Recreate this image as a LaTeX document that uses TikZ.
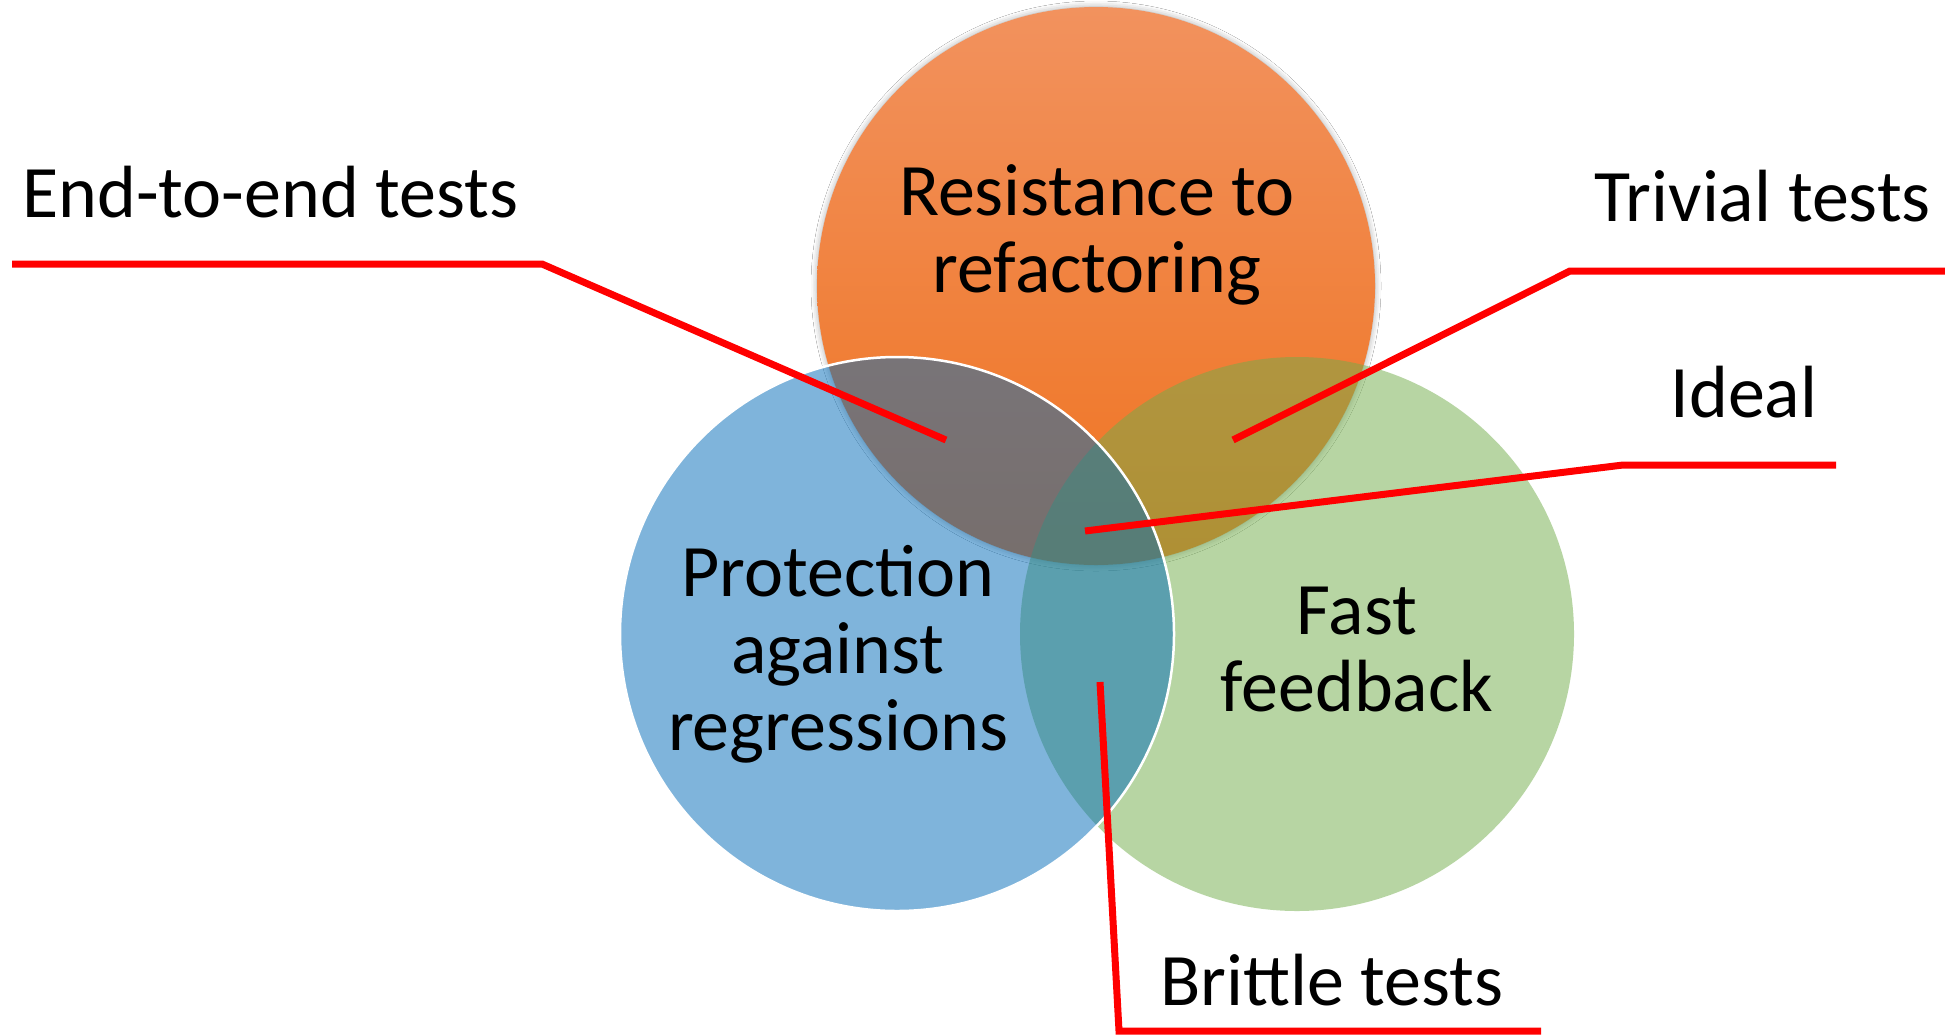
\documentclass[tikz,border=0pt]{standalone}
\usepackage{fontspec}
\setmainfont{Carlito}
\usetikzlibrary{shadows.blur}

\definecolor{orangeTop}{RGB}{242,146,94}
\definecolor{orangeBot}{RGB}{239,115,32}
\definecolor{vennGreen}{RGB}{113,173,73}
\definecolor{vennBlue}{RGB}{1,107,185}
\definecolor{calloutRed}{RGB}{255,0,0}

\begin{document}
\begin{tikzpicture}[x=1pt,y=-1pt,
  lbl/.style={font=\fontsize{74}{77}\selectfont, inner sep=0pt, align=center, text=black},
  setline/.style={white, line width=2.5pt, fill opacity=0.5},
  callout/.style={draw=calloutRed, line width=7pt}]

  % canvas
  \fill[white] (0,0) rectangle (1945,1034);
  \useasboundingbox (0,0) rectangle (1945,1034);

  % circle centres
  \coordinate (cO) at (1096,286);
  \coordinate (cB) at (897,634);
  \coordinate (cG) at (1297,634);

  % orange set: opaque, vertical gradient, soft glow
  \path[top color=orangeTop, bottom color=orangeBot,
        blur shadow={shadow xshift=0pt, shadow yshift=0pt,
                     shadow blur radius=6pt, shadow opacity=35}]
    (cO) circle (279);

  % green and blue sets: half transparent, white rims
  \path[setline, fill=vennGreen] (cG) circle (277);
  \path[setline, fill=vennBlue] (cB) circle (277);
  \draw[white, line width=2.5pt] (cB) circle (277);

  % set names (base anchor = last line's baseline)
  \node[lbl, anchor=base] (resist) at (1097,292) {Resistance to\\refactoring};
  \node[lbl, anchor=base] (protect) at (838,750) {Protection\\against\\regressions};
  \node[lbl, anchor=base] (fast) at (1357,711) {Fast\\feedback};

  % callout labels
  \node[lbl, anchor=base west] (e2e) at (22,217) {End-to-end tests};
  \node[lbl, anchor=base east] (trivial) at (1931,221) {Trivial tests};
  \node[lbl, anchor=base] (ideal) at (1744,417) {Ideal};
  \node[lbl, anchor=base] (brittle) at (1332,1005) {Brittle tests};

  % callout line points
  \coordinate (e2eA) at (12,264);
  \coordinate (e2eB) at (542,264);
  \coordinate (e2eTip) at (946,440);
  \coordinate (trivA) at (1945,271);
  \coordinate (trivB) at (1570,271);
  \coordinate (trivTip) at (1233,440);
  \coordinate (idealA) at (1836,465);
  \coordinate (idealB) at (1623,465);
  \coordinate (idealTip) at (1085,531);
  \coordinate (britA) at (1541,1031);
  \coordinate (britB) at (1119,1031);
  \coordinate (britTip) at (1100,682);

  % callout lines
  \draw[callout] (e2eA) -- (e2eB) -- (e2eTip);
  \draw[callout] (trivA) -- (trivB) -- (trivTip);
  \draw[callout] (idealA) -- (idealB) -- (idealTip);
  \draw[callout] (britA) -- (britB) -- (britTip);
\end{tikzpicture}
\end{document}
